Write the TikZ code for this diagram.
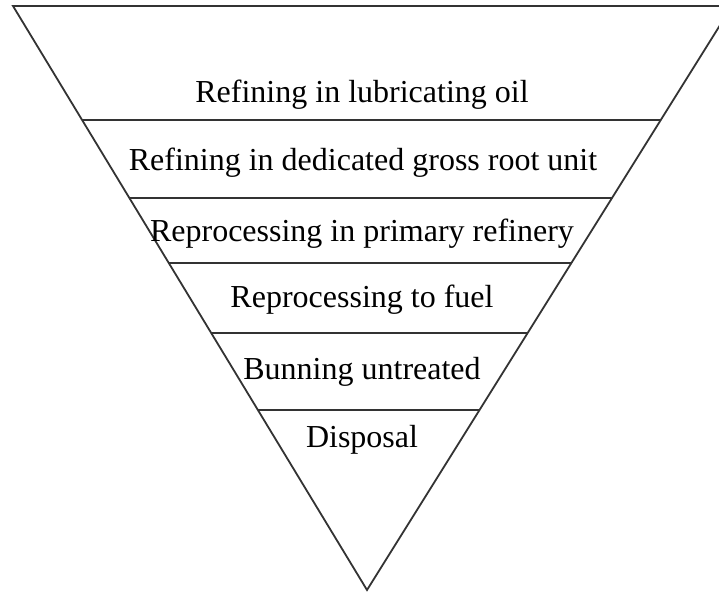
\documentclass[tikz,border=0pt]{standalone}
\usepackage{fontspec}
\setmainfont{Liberation Serif}
\begin{document}
\begin{tikzpicture}[x=1pt,y=-1pt,
  edge/.style={draw=black!80, line width=1.8pt},
  lbl/.style={anchor=base, inner sep=0pt, font=\fontsize{32}{38}\selectfont}]
\useasboundingbox (0,0) rectangle (719,596);
\clip (0,0) rectangle (719,596);
\coordinate (tl) at (13,6);
\coordinate (tr) at (732,6);
\coordinate (ap) at (367,590);
\draw[edge, line join=miter] (tl) -- (tr) -- (ap) -- cycle;
\draw[edge] (82,120) -- (661,120);
\draw[edge] (129.3,198) -- (612.3,198);
\draw[edge] (168.8,263) -- (571.8,263);
\draw[edge] (211.3,333) -- (528.1,333);
\draw[edge] (258,410) -- (480,410);
\node[lbl] (t1) at (362,103) {Refining in lubricating oil};
\node[lbl] (t2) at (363,171) {Refining in dedicated gross root unit};
\node[lbl] (t3) at (362,241) {Reprocessing in primary refinery};
\node[lbl] (t4) at (362,307) {Reprocessing to fuel};
\node[lbl] (t5) at (362,379) {Bunning untreated};
\node[lbl] (t6) at (362,447) {Disposal};
\end{tikzpicture}
\end{document}
